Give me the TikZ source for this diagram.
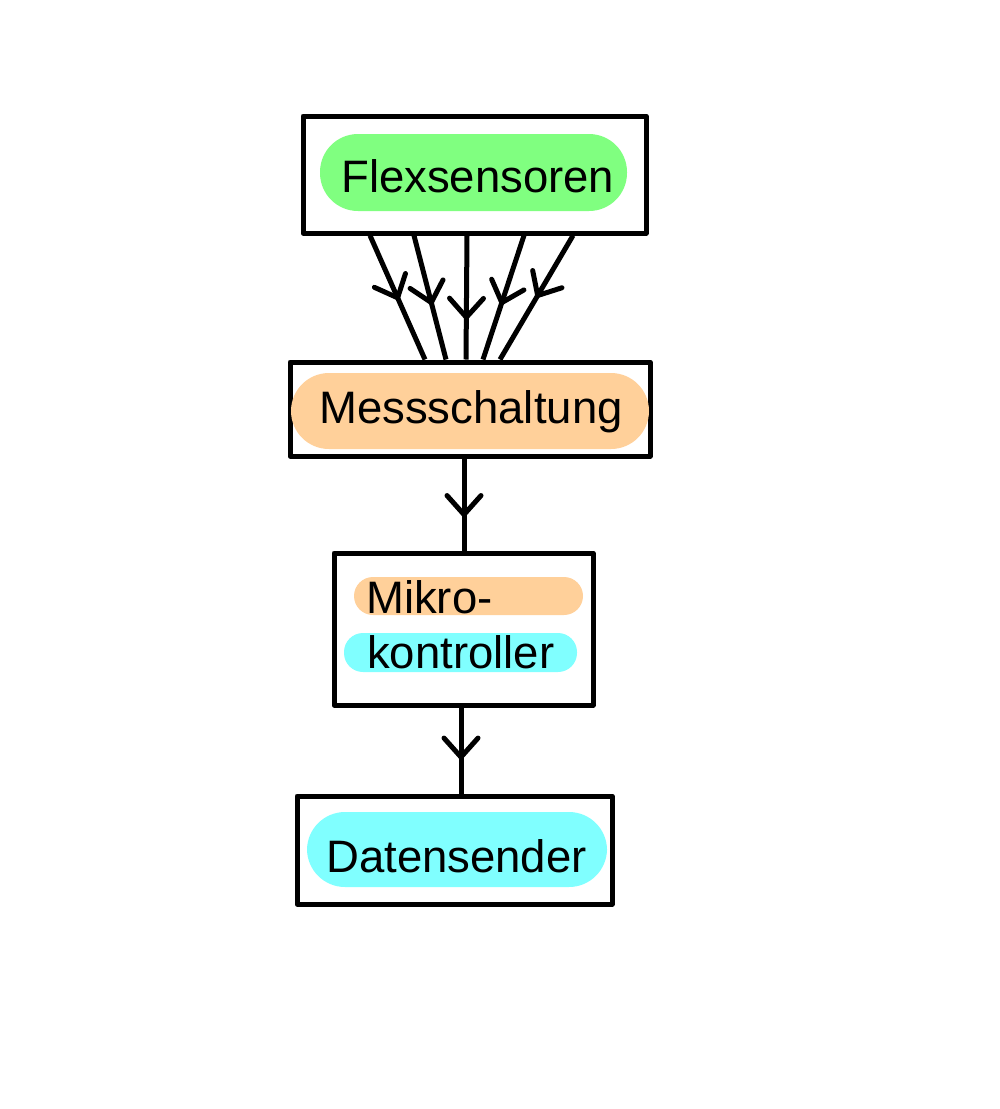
\documentclass[tikz,border=0pt]{standalone}
\usepackage{fontspec}
\setmainfont{Liberation Sans}
\usetikzlibrary{arrows.meta,decorations.markings,calc}
\definecolor{pillgreen}{HTML}{80FF80}
\definecolor{pillorange}{HTML}{FFD09A}
\definecolor{pillcyan}{HTML}{80FFFF}
\tikzset{
  box/.style={draw=black, line width=5pt, rectangle, inner sep=0pt, line join=round},
  pill/.style={fill=#1, rounded corners=19pt, inner sep=0pt, draw=none},
  bigpill/.style={fill=#1, rounded corners=38pt, inner sep=0pt, draw=none},
  lbl/.style={inner sep=0pt, anchor=base west, font=\fontsize{45.5}{54}\selectfont},
  midarrow/.style={line width=5pt, decoration={markings, mark=at position #1 with {\arrow[line width=5pt]{Straight Barb[length=19pt, width=34pt, line cap=round]}}}, postaction={decorate}},
}
\begin{document}
\begin{tikzpicture}[x=1pt, y=-1pt]
\useasboundingbox (0,0) rectangle (1000,1109);
% boxes
\node[box, minimum width=343pt, minimum height=117pt] (b1) at (474.5,174.5) {};
\node[box, minimum width=360pt, minimum height=94pt] (b2) at (470,409) {};
\node[box, minimum width=259pt, minimum height=152pt] (b3) at (463.5,629) {};
\node[box, minimum width=315pt, minimum height=108pt] (b4) at (454.5,850) {};
% pills
\node[bigpill=pillgreen, minimum width=307pt, minimum height=77pt] (p1) at (473.5,172.5) {};
\node[bigpill=pillorange, minimum width=358pt, minimum height=76pt] (p2) at (470,411) {};
\node[pill=pillorange, minimum width=229pt, minimum height=38pt] (p3a) at (468.5,596) {};
\node[pill=pillcyan, minimum width=233pt, minimum height=39pt] (p3b) at (460.5,652.5) {};
\node[bigpill=pillcyan, minimum width=300pt, minimum height=75pt] (p4) at (457,849.5) {};
% labels
\node[lbl] (t1) at (341,192) {Flexsensoren};
\node[lbl] (t2) at (319,423) {Messschaltung};
\node[lbl] (t3a) at (366,613) {Mikro-};
\node[lbl] (t3b) at (367,668) {kontroller};
\node[lbl] (t4) at (326,872) {Datensender};
% fan connectors
\foreach \i/\sx/\ex/\p in {1/-104.5/-45/0.53, 2/-60.5/-24/0.57, 3/-7.5/-4/0.69, 4/49.5/13/0.57, 5/98.5/30/0.51}{
  \coordinate (s\i) at ([xshift=\sx pt]b1.south);
  \coordinate (e\i) at ([xshift=\ex pt]b2.north);
  \draw[midarrow=\p] (s\i) -- (e\i);
}
% vertical connectors
\coordinate (c2s) at ([xshift=-6pt]b2.south);
\coordinate (c3n) at ([xshift=0.5pt]b3.north);
\draw[midarrow=0.65] (c2s) -- (c3n);
\coordinate (c3s) at ([xshift=-2.5pt]b3.south);
\coordinate (c4n) at ([xshift=6.5pt]b4.north);
\draw[midarrow=0.62] (c3s) -- (c4n);
\end{tikzpicture}
\end{document}
